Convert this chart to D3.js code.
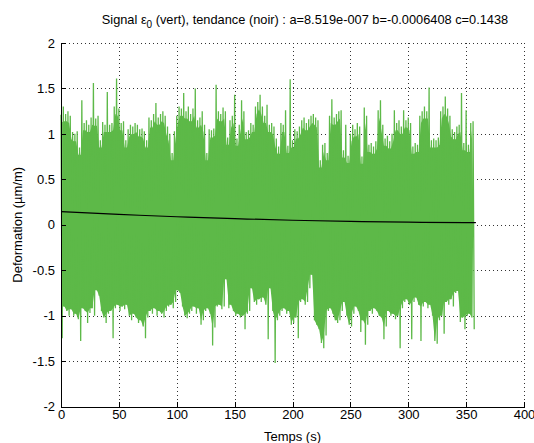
<!DOCTYPE html>
<html>
<head>
<meta charset="utf-8">
<script src="https://cdn.jsdelivr.net/npm/d3@7"></script>
<style>
  html, body { margin: 0; padding: 0; background: #fff; }
  svg { display: block; }
  text { font-family: "Liberation Sans", Arial, Helvetica, sans-serif; fill: #000; }
</style>
</head>
<body>
<svg id="chart" width="534" height="443"></svg>
<script>
// ---------------- data ----------------
const titleParts = ["Signal \u03B5", "0", " (vert), tendance (noir) : a=8.519e-007 b=-0.0006408 c=0.1438"];
const xLabel = "Temps (s)";
const yLabel = "Deformation (\u00B5m/m)";

const xTicks = [0, 50, 100, 150, 200, 250, 300, 350, 400];
const xTickLabels = ["0", "50", "100", "150", "200", "250", "300", "350", "400"];
const yTicks = [-2, -1.5, -1, -0.5, 0, 0.5, 1, 1.5, 2];
const yTickLabels = ["-2", "-1.5", "-1", "-0.5", "0", "0.5", "1", "1.5", "2"];

// signal envelope, one sample pair every 2 s (upper at t, lower at t+1)
const sampleStep = 2;
const signalUpper = [
  1.21, 1.30, 1.22, 1.25, 1.20, 1.02, 1.00, 1.03, 0.85, 1.37,
  1.12, 1.15, 1.10, 1.18, 1.56, 1.17, 1.20, 0.93, 1.13, 1.10,
  1.46, 1.10, 1.12, 1.30, 1.61, 1.28, 1.12, 1.14, 0.93, 1.05,
  1.10, 1.08, 1.12, 1.10, 1.05, 1.06, 1.03, 0.93, 1.18, 1.15,
  1.22, 1.34, 1.18, 1.22, 1.25, 1.20, 1.08, 1.00, 0.79, 1.03,
  1.20, 1.30, 1.28, 1.45, 1.25, 1.30, 1.22, 1.28, 1.50, 1.15,
  1.18, 1.25, 1.10, 0.79, 1.05, 1.04, 1.06, 1.54, 1.25, 1.22,
  1.29, 1.25, 0.96, 1.15, 1.20, 1.43, 0.95, 1.10, 1.37, 1.25,
  1.02, 1.04, 1.12, 1.10, 1.30, 1.35, 1.43, 1.30, 1.20, 1.32,
  1.10, 1.12, 1.08, 0.95, 0.86, 1.12, 1.10, 1.26, 0.87, 1.60,
  0.93, 1.05, 1.03, 1.08, 1.15, 1.18, 1.12, 1.16, 1.20, 1.22,
  1.18, 1.15, 0.71, 0.88, 0.90, 0.79, 1.20, 1.38, 1.18, 1.22,
  1.25, 1.26, 0.82, 1.10, 0.76, 1.00, 1.10, 1.05, 1.12, 1.08,
  0.75, 1.29, 1.20, 0.88, 0.90, 0.86, 0.92, 1.26, 1.37, 1.10,
  0.95, 0.98, 0.92, 1.00, 1.26, 1.12, 1.15, 1.08, 1.26, 1.15,
  1.18, 1.12, 0.86, 0.90, 0.88, 1.20, 1.25, 1.30, 1.25, 1.51,
  0.93, 0.95, 0.93, 0.96, 1.25, 1.30, 1.41, 1.28, 1.20, 1.05,
  1.02, 1.08, 1.10, 1.45, 0.90, 1.26, 0.88, 1.12, 1.14
];
const signalLower = [
  -1.25, -0.90, -0.95, -1.00, -0.93, -1.00, -0.98, -1.04, -1.28, -0.92,
  -0.95, -1.08, -0.97, -0.92, -1.00, -0.72, -0.78, -0.95, -1.02, -1.08,
  -0.98, -0.95, -1.25, -0.92, -0.88, -0.95, -0.90, -0.93, -0.88, -1.00,
  -1.05, -0.98, -1.02, -1.08, -1.05, -1.12, -1.25, -1.02, -0.95, -0.98,
  -0.92, -1.00, -0.95, -0.98, -1.02, -0.95, -0.90, -0.88, -0.92, -0.85,
  -0.72, -0.75, -0.90, -1.00, -1.03, -0.98, -0.95, -0.90, -0.98, -0.92,
  -1.10, -1.05, -0.95, -0.92, -0.98, -1.33, -1.13, -0.90, -0.88, -0.93,
  -0.90, -0.60, -0.92, -0.88, -0.95, -1.00, -0.98, -1.02, -1.00, -1.15,
  -0.98, -0.95, -0.70, -0.85, -0.88, -0.82, -0.85, -0.80, -0.88, -1.26,
  -0.70, -0.95, -1.52, -1.05, -1.00, -0.95, -0.92, -0.98, -0.95, -1.10,
  -1.08, -1.02, -1.25, -0.85, -0.82, -0.88, -0.85, -0.70, -0.55, -1.05,
  -1.10, -1.15, -1.30, -1.36, -1.22, -0.95, -0.92, -0.98, -1.05, -1.08,
  -1.05, -0.95, -0.85, -1.00, -1.10, -1.12, -0.98, -0.90, -0.95, -1.18,
  -1.05, -1.32, -1.10, -0.95, -0.98, -0.92, -0.95, -1.00, -1.02, -1.26,
  -1.12, -0.95, -1.00, -0.98, -1.04, -1.00, -1.36, -0.92, -0.85, -0.82,
  -0.88, -1.26, -0.85, -0.80, -0.88, -1.28, -0.90, -0.85, -0.92, -0.88,
  -1.00, -1.28, -1.31, -1.05, -1.00, -1.20, -0.85, -0.88, -0.82, -0.90,
  -0.75, -0.73, -1.07, -1.02, -1.15, -1.00, -0.98, -1.02, -1.15
];

// trend (black line), read at these times
const trendTimes  = [0, 50, 100, 150, 200, 250, 300, 350, 357];
const trendValues = [0.1438, 0.1139, 0.0882, 0.0669, 0.0497, 0.0368, 0.0283, 0.0239, 0.0236];

// ---------------- drawing ----------------
(function () {
const svg = d3.select("#chart");
const W = 534, H = 443;
const mLeft = 61, mRight = 524, mTop = 43, mBottom = 406.5;
const green = "#5db948";

const x = d3.scaleLinear().domain([0, 400]).range([mLeft, mRight]);
const y = d3.scaleLinear().domain([-2, 2]).range([mBottom, mTop]);

svg.append("rect").attr("width", W).attr("height", H).attr("fill", "#fff");

// grid (dotted), behind data
const grid = svg.append("g").attr("stroke", "#333").attr("stroke-width", 1)
  .attr("stroke-dasharray", "1,3").attr("shape-rendering", "crispEdges");
xTicks.filter(t => t !== 0).forEach(t => {
  grid.append("line").attr("x1", Math.round(x(t)) + 0.5).attr("x2", Math.round(x(t)) + 0.5)
    .attr("y1", mTop).attr("y2", mBottom);
});
yTicks.filter(t => t !== -2).forEach(t => {
  grid.append("line").attr("x1", mLeft).attr("x2", mRight)
    .attr("y1", Math.round(y(t)) + 0.5).attr("y2", Math.round(y(t)) + 0.5);
});

// solid core of the band (between the inner envelope of neighbouring samples)
const n = signalUpper.length;
svg.append("path")
  .attr("d", d3.area().x(d => x(d[0])).y0(d => y(d[1])).y1(d => y(d[2]))(
    signalUpper.map((u, i) => [i * sampleStep + sampleStep / 2,
      Math.max(signalLower[i], signalLower[Math.min(i + 1, n - 1)]),
      Math.min(u, signalUpper[Math.min(i + 1, n - 1)]) - 0.08]).slice(0, -1)))
  .attr("fill", green);

// signal as a dense zig-zag line
const pts = [];
signalUpper.forEach((u, i) => {
  pts.push([i * sampleStep, u]);
  pts.push([i * sampleStep + sampleStep / 2, signalLower[i]]);
});
svg.append("path")
  .attr("d", d3.line().x(d => x(d[0])).y(d => y(d[1]))(pts))
  .attr("fill", "none").attr("stroke", green).attr("stroke-width", 1.3)
  .attr("stroke-linejoin", "miter");

// trend line
svg.append("path")
  .attr("d", d3.line().x((d, i) => x(trendTimes[i])).y(d => y(d)).curve(d3.curveNatural)(trendValues))
  .attr("fill", "none").attr("stroke", "#000").attr("stroke-width", 1.2);

// axes
const xAxis = d3.axisBottom(x).tickValues(xTicks).tickFormat((d, i) => xTickLabels[i])
  .tickSizeInner(-5).tickSizeOuter(0).tickPadding(3);
const yAxis = d3.axisLeft(y).tickValues(yTicks).tickFormat((d, i) => yTickLabels[i])
  .tickSizeInner(-5).tickSizeOuter(0).tickPadding(6);

const gx = svg.append("g").attr("transform", `translate(0,${mBottom})`).call(xAxis);
const gy = svg.append("g").attr("transform", `translate(${mLeft},0)`).call(yAxis);
[gx, gy].forEach(g => {
  g.selectAll("path.domain").attr("stroke", "#000").attr("stroke-width", 1).attr("shape-rendering", "crispEdges");
  g.selectAll(".tick line").attr("stroke", "#000").attr("shape-rendering", "crispEdges");
  g.selectAll("text").attr("font-size", 13).attr("font-family", "'Liberation Sans', Arial, sans-serif").attr("fill", "#000");
});

// title
const title = svg.append("text").attr("x", 305).attr("y", 24)
  .attr("text-anchor", "middle").attr("font-size", 12.8);
title.append("tspan").text(titleParts[0]);
title.append("tspan").attr("dy", 4).attr("font-size", 10).text(titleParts[1]);
title.append("tspan").attr("dy", -4).text(titleParts[2]);

// axis labels
svg.append("text").attr("x", (mLeft + mRight) / 2).attr("y", 441)
  .attr("text-anchor", "middle").attr("font-size", 13).text(xLabel);
svg.append("text").attr("transform", `translate(22,${(mTop + mBottom) / 2}) rotate(-90)`)
  .attr("text-anchor", "middle").attr("font-size", 13).text(yLabel);
})();
</script>
</body>
</html>
